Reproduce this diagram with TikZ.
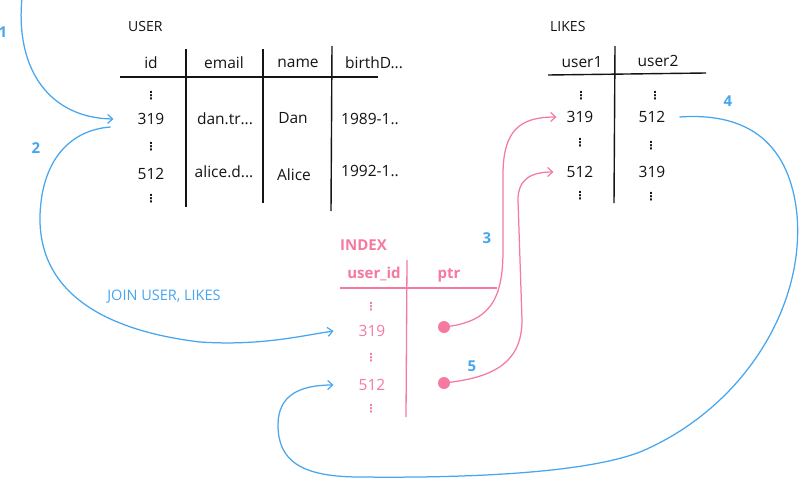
\documentclass[tikz,border=0pt]{standalone}
\usepackage{fontspec}
\setmainfont{Open Sans}
\newfontfamily\symf{DejaVu Sans}
\usetikzlibrary{arrows.meta}
\definecolor{lineblue}{RGB}{70,166,240}
\definecolor{idxpink}{RGB}{246,122,160}
\definecolor{ink}{RGB}{20,20,20}
\begin{document}
\begin{tikzpicture}[x=1pt,y=-1pt,
  cell/.style={font=\fontsize{15.5}{18}\selectfont, text=ink, inner sep=0pt},
  pcell/.style={cell, text=idxpink},
  phead/.style={font=\fontsize{15}{18}\selectfont\bfseries, text=idxpink, inner sep=0pt},
  vdots/.style={font=\symf\bfseries\fontsize{11}{12}\selectfont, text=ink, inner sep=0pt},
  pvdots/.style={vdots, text=idxpink},
  title/.style={font=\fontsize{14}{16}\selectfont, text=ink, inner sep=0pt, anchor=west},
  stepnum/.style={font=\fontsize{15}{17}\selectfont\bfseries, text=lineblue, inner sep=0pt},
  rule/.style={draw=ink, line width=1.4pt},
  prule/.style={draw=idxpink, line width=1.3pt},
  bluearrow/.style={draw=lineblue, line width=1.25pt, -{Straight Barb[length=5pt,width=9pt,line width=1.2pt]}},
  pinkarrow/.style={draw=idxpink, line width=1.25pt, -{Straight Barb[length=5pt,width=9pt,line width=1.2pt]}},
  ptrdot/.style={circle, fill=idxpink, inner sep=0pt, minimum size=12pt}
]
\useasboundingbox (0,0) rectangle (800,479);
\fill[white] (0,0) rectangle (800,479);

% ---------- USER table ----------
\node[title] (usertitle) at (128,26) {USER};
\node[cell] (hid) at (151,63) {id};
\node[cell] (hemail) at (224,63) {email};
\node[cell] (hname) at (298,63) {name};
\node[cell] (hbirth) at (374,63) {birthD...};
\draw[rule] (120,77) -- (378,77);
\draw[rule] (186,49) -- (186,207);
\draw[rule] (263,49) -- (263,203);
\draw[rule] (332,46) -- (331,211);
\node[vdots] (uv1) at (151,96) {⋮};
\node[cell] (u319) at (151,119) {319};
\node[vdots] (uv2) at (151,147) {⋮};
\node[cell] (u512) at (151,174) {512};
\node[vdots] (uv3) at (151,199) {⋮};
\node[cell] (uemail1) at (225,119) {dan.tr...};
\node[cell] (uemail2) at (224,172) {alice.d...};
\node[cell] (uname1) at (293,118) {Dan};
\node[cell] (uname2) at (294,175) {Alice};
\node[cell] (ubirth1) at (370,119) {1989-1..};
\node[cell] (ubirth2) at (370,171) {1992-1..};

% ---------- LIKES table ----------
\node[title] (likestitle) at (550,26) {LIKES};
\node[cell] (huser1) at (582,62) {user1};
\node[cell] (huser2) at (658,61) {user2};
\draw[rule] (548,75) -- (706,73);
\draw[rule] (615,46) -- (614,203);
\node[vdots] (lv1) at (581,96) {⋮};
\node[vdots] (lv2) at (655,96) {⋮};
\node[cell] (l319) at (580,117) {319};
\node[cell] (l2a) at (652,117) {512};
\node[vdots] (lv3) at (580,143) {⋮};
\node[vdots] (lv4) at (651,146) {⋮};
\node[cell] (l512) at (580,172) {512};
\node[cell] (l2b) at (652,172) {319};
\node[vdots] (lv5) at (580,196) {⋮};
\node[vdots] (lv6) at (651,197) {⋮};

% ---------- INDEX table ----------
\node[phead, anchor=west] (idxtitle) at (340,245) {INDEX};
\node[phead] (huid) at (374,274) {user\_id};
\node[phead] (hptr) at (449,275) {ptr};
\draw[prule] (340,288) -- (497,288);
\draw[prule] (407,260) -- (406,417);
\node[pvdots] (iv1) at (371,307) {⋮};
\node[pcell] (i319) at (372,331) {319};
\node[pvdots] (iv2) at (371,358) {⋮};
\node[pcell] (i512) at (372,385) {512};
\node[pvdots] (iv3) at (371,409) {⋮};
\node[ptrdot] (d319) at (444,327) {};
\node[ptrdot] (d512) at (444,383) {};

% ---------- step numbers ----------
\node[stepnum] (n1) at (3,32) {1};
\node[stepnum] (n2) at (36,148) {2};
\node[stepnum] (n3) at (487,238) {3};
\node[stepnum] (n4) at (728,101) {4};
\node[stepnum] (n5) at (472,366) {5};
\node[font=\fontsize{14.5}{16}\selectfont, text=lineblue, inner sep=0pt] (join) at (164,297) {JOIN USER, LIKES};

% ---------- connectors ----------
\coordinate (c1start) at (22,-2);
\draw[bluearrow] (c1start) .. controls (15,70) and (50,118) .. ([xshift=-24pt]u319.west);
\draw[bluearrow] ([xshift=-27pt,yshift=-8pt]u319.west) .. controls (70,130) and (42,160) .. (40,215)
  .. controls (38,290) and (100,330) .. (200,342)
  .. controls (260,346) and (300,336) .. ([xshift=-25pt]i319.west);
\draw[pinkarrow] (d319.center) .. controls (490,322) and (503,300) .. (503,250) -- (503,175)
  .. controls (503,130) and (520,117) .. ([xshift=-10pt]l319.west);
\draw[pinkarrow] (d512.center) .. controls (490,378) and (522,365) .. (522,320) -- (518,200)
  .. controls (518,180) and (530,172) .. ([xshift=-13pt]l512.west);
\draw[bluearrow] ([xshift=14pt]l2a.east) .. controls (750,112) and (790,145) .. (797,215)
  .. controls (805,310) and (740,410) .. (640,452)
  .. controls (580,475) and (450,478) .. (360,477)
  .. controls (300,477) and (278,460) .. (278,425)
  .. controls (278,395) and (300,385) .. ([xshift=-25pt]i512.west);
\end{tikzpicture}
\end{document}
